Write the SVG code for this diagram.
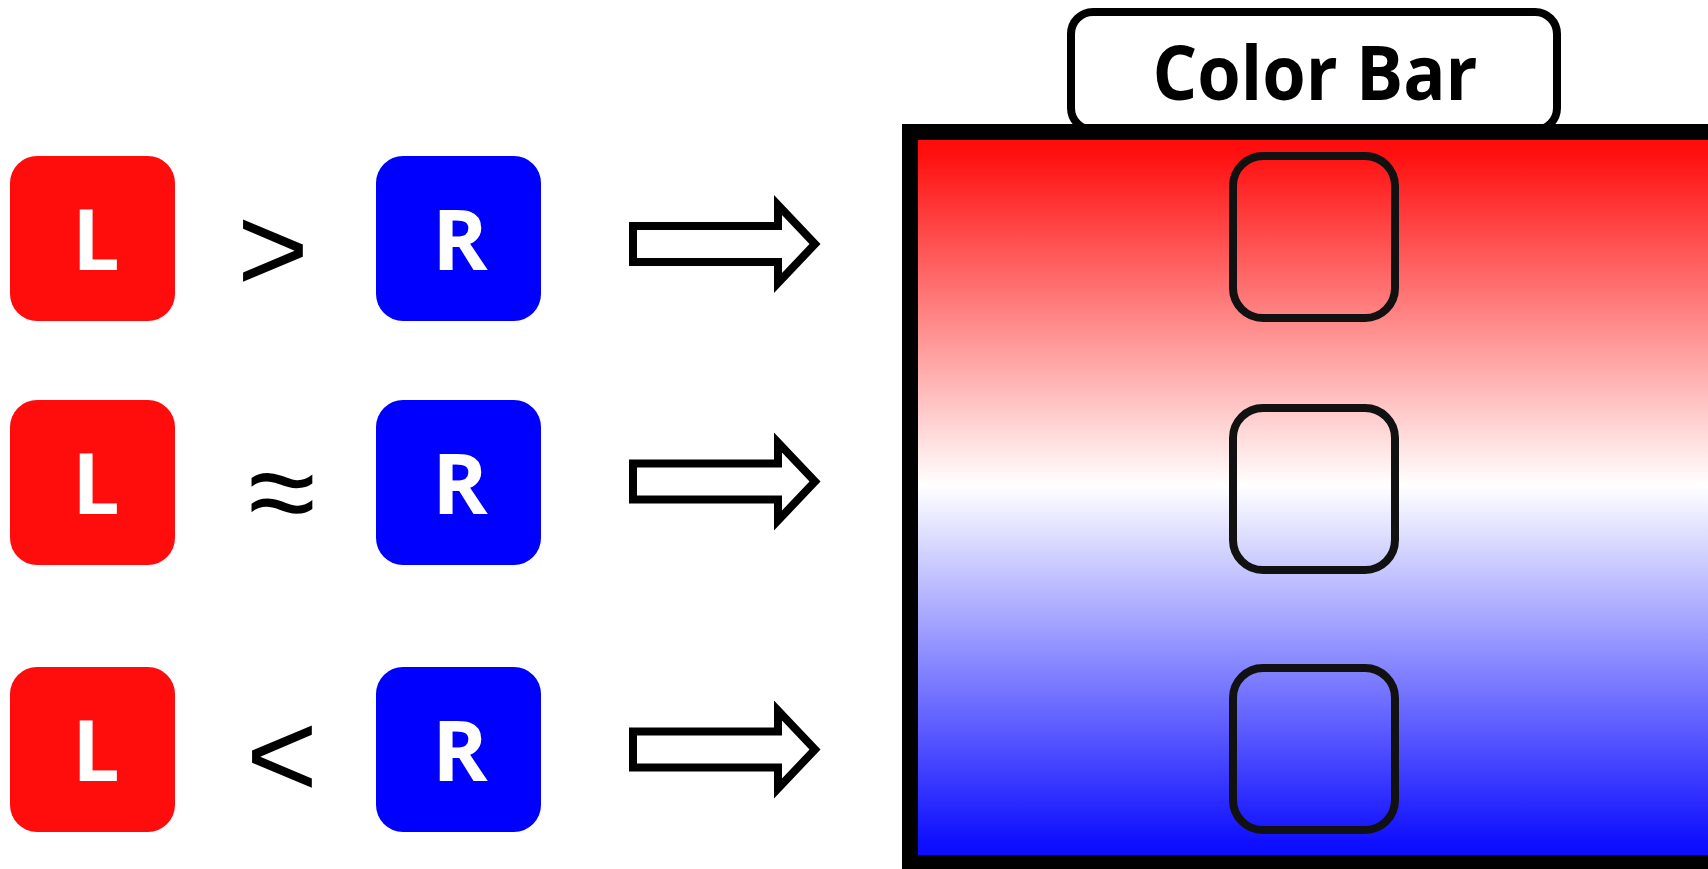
<svg xmlns="http://www.w3.org/2000/svg" width="1708" height="869" viewBox="0 0 1708 869">
<style>
.lbox{fill:#ff0d0d}
.rbox{fill:#0000ff}
.let{font-family:"Open Sans","Liberation Sans",sans-serif;font-weight:700;font-size:84px;fill:#fff;text-anchor:middle}
.sym{font-family:"Liberation Sans",sans-serif;font-size:123px;fill:#000;text-anchor:middle}
.arrow{fill:#fff;stroke:#000;stroke-width:8;stroke-miterlimit:10}
.slot{fill:none;stroke:#111;stroke-width:8}
</style>
<defs>
<linearGradient id="cb" x1="0" y1="0" x2="0" y2="1">
<stop offset="0" stop-color="#ff0a0a"/>
<stop offset="0.03" stop-color="#ff1010"/>
<stop offset="0.484" stop-color="#ffffff"/>
<stop offset="0.97" stop-color="#1010ff"/>
<stop offset="1" stop-color="#0a0aff"/>
</linearGradient>
</defs>
<rect width="1708" height="869" fill="#fff"/>
<g id="row1">
<g id="L1"><rect class="lbox" x="10" y="156" width="165" height="165" rx="27"/><text class="let" x="96" y="270">L</text></g>
<text id="gt" class="sym" x="273" y="291">&gt;</text>
<g id="R1"><rect class="rbox" x="376" y="156" width="165" height="165" rx="27"/><text class="let" x="460" y="270">R</text></g>
</g>
<g id="row2">
<g id="L2"><rect class="lbox" x="10" y="400" width="165" height="165" rx="27"/><text class="let" x="96" y="514">L</text></g>
<text id="approx" class="sym" x="282" y="534">≈</text>
<g id="R2"><rect class="rbox" x="376" y="400" width="165" height="165" rx="27"/><text class="let" x="460" y="514">R</text></g>
</g>
<g id="row3">
<g id="L3"><rect class="lbox" x="10" y="667" width="165" height="165" rx="27"/><text class="let" x="96" y="781">L</text></g>
<text id="lt" class="sym" x="282" y="797">&lt;</text>
<g id="R3"><rect class="rbox" x="376" y="667" width="165" height="165" rx="27"/><text class="let" x="460" y="781">R</text></g>
</g>
<g id="connectors">
<path class="arrow" d="M633,226 L778,226 L778,205 L815,244 L778,283 L778,262 L633,262 Z"/>
<path class="arrow" d="M633,463.5 L778,463.5 L778,442.5 L815,481.5 L778,520.5 L778,499.5 L633,499.5 Z"/>
<path class="arrow" d="M633,731.5 L778,731.5 L778,710.5 L815,749.5 L778,788.5 L778,767.5 L633,767.5 Z"/>
</g>
<g id="label">
<rect x="1071" y="12" width="486" height="118" rx="22" fill="#fff" stroke="#000" stroke-width="8"/>
<text x="1315" y="100" font-family="Open Sans, Liberation Sans, sans-serif" font-weight="700" font-size="76" text-anchor="middle" textLength="325" lengthAdjust="spacingAndGlyphs">Color Bar</text>
</g>
<g id="colorbar">
<rect x="910" y="132" width="820" height="731" fill="url(#cb)" stroke="#000" stroke-width="16"/>
<rect class="slot" x="1233" y="156" width="162" height="162" rx="30"/>
<rect class="slot" x="1233" y="408" width="162" height="162" rx="30"/>
<rect class="slot" x="1233" y="668" width="162" height="162" rx="30"/>
</g>
</svg>
